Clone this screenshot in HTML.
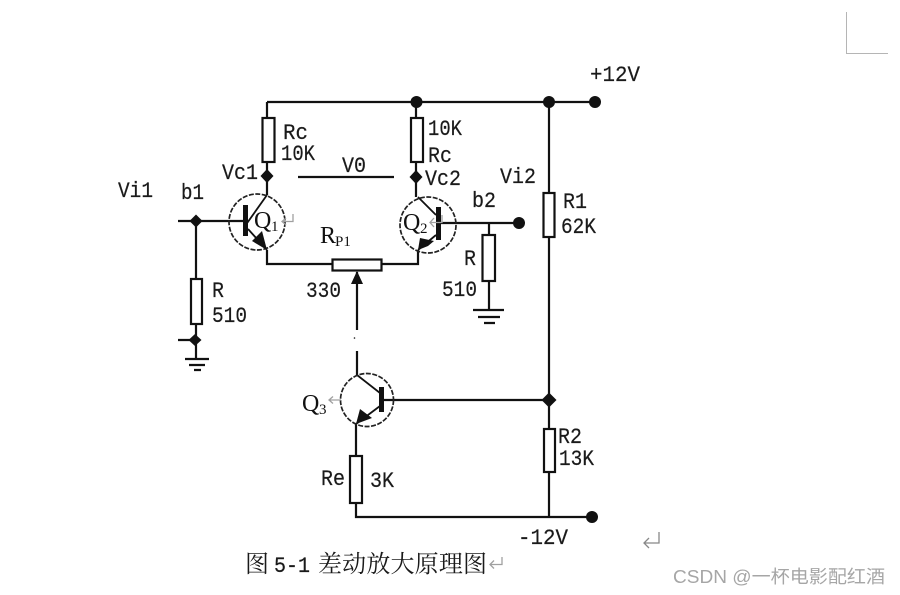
<!DOCTYPE html>
<html>
<head>
<meta charset="utf-8">
<style>
html,body{margin:0;padding:0;background:#fff;width:900px;height:595px;overflow:hidden}
svg{display:block}
.l{font-family:"Liberation Mono",monospace;font-size:22px;fill:#1a1a1a;stroke:#1a1a1a;stroke-width:0.2px}
.t{font-family:"Liberation Serif",serif;font-size:24px;fill:#111}
.s{font-family:"Liberation Serif",serif;font-size:15px;fill:#111}
.c{font-family:"Liberation Serif","Noto Serif CJK SC",serif;font-size:24px;fill:#1a1a1a}
.w{font-family:"Liberation Sans","Noto Sans CJK SC",sans-serif;font-size:18px;fill:#a6a6a6}
</style>
</head>
<body>
<svg width="900" height="595" viewBox="0 0 900 595" xmlns="http://www.w3.org/2000/svg">
<path d="M846.5 12V53.5H888" fill="none" stroke="#b5b5b5" stroke-width="1"/>
<g fill="none" stroke="#111" stroke-width="2.200">
<path d="M267 102H595M549 102V517M267 102V195M416 102V197"/>
<path d="M178 221H245M196 221V340M178 340H196M196 340V359"/>
<path d="M267 250V264H332M382 264H418V250"/>
<path d="M438 223H519M489 223V310"/>
<path d="M357 272V330M357 351V375"/>
<path d="M381 400H549M356 424V517H592"/>
<path d="M298 177H394"/>
<path d="M245 226L267 195M248 229L267 250" stroke-width="1.800"/>
<path d="M436 215L418 197M436 235L418 250" stroke-width="1.800"/>
<path d="M380 393L357 375M380 406L356 424" stroke-width="1.800"/>
<path d="M473 310H504M478 317H500M484 323H495" />
<path d="M185 359H209M189 365H205M194 370H201" />
</g>
<g fill="#fff" stroke="#111" stroke-width="2.200">
<rect x="262.500" y="118" width="12" height="44"/>
<rect x="411" y="118" width="12" height="44"/>
<rect x="543.500" y="193" width="11" height="44"/>
<rect x="544" y="429" width="11" height="43"/>
<rect x="482.500" y="235" width="12.500" height="46"/>
<rect x="191" y="279" width="11" height="45"/>
<rect x="332.500" y="259.500" width="49" height="11"/>
<rect x="350" y="456" width="12" height="47"/>
</g>
<g fill="none" stroke="#222" stroke-width="1.700" stroke-dasharray="5 1.500">
<circle cx="257" cy="222" r="28"/>
<circle cx="428" cy="225" r="28"/>
<circle cx="367" cy="400" r="26.500"/>
</g>
<g fill="#111">
<rect x="243" y="205" width="5" height="31"/>
<rect x="436" y="207" width="5" height="33"/>
<rect x="379" y="387" width="5" height="25"/>
<path d="M267 250L252 241L262 231Z"/>
<path d="M418 250L420 238L434 241L428 246Z"/>
<path d="M356 424L360 409L372 418Z"/>
<path d="M357 271L351 284H363Z"/>
<circle cx="354.500" cy="338" r="0.800"/>
</g>
<g fill="#111">
<path d="M267 169L273.500 176L267 183L260.500 176Z"/>
<path d="M416 170L422.500 177L416 184L409.500 177Z"/>
<path d="M196 214.500L202.500 221L196 227.500L189.500 221Z"/>
<path d="M195 334L201.500 340L195 346L188.500 340Z"/>
<circle cx="416.500" cy="102" r="6"/>
<circle cx="549" cy="102" r="6"/>
<circle cx="595" cy="102" r="6"/>
<circle cx="519" cy="223" r="6"/>
<path d="M549 392.500L556.500 400L549 407.500L541.500 400Z"/>
<circle cx="592" cy="517" r="6"/>
</g>
<text class="l" x="590" y="81" textLength="50" lengthAdjust="spacingAndGlyphs">+12V</text>
<text class="l" x="283" y="139" textLength="25" lengthAdjust="spacingAndGlyphs">Rc</text>
<text class="l" x="281" y="160" textLength="34" lengthAdjust="spacingAndGlyphs">10K</text>
<text class="l" x="222" y="179" textLength="36" lengthAdjust="spacingAndGlyphs">Vc1</text>
<text class="l" x="118" y="197" textLength="35" lengthAdjust="spacingAndGlyphs">Vi1</text>
<text class="l" x="181" y="199" textLength="23" lengthAdjust="spacingAndGlyphs">b1</text>
<text class="l" x="342" y="172" textLength="24" lengthAdjust="spacingAndGlyphs">V0</text>
<text class="l" x="428" y="135" textLength="34" lengthAdjust="spacingAndGlyphs">10K</text>
<text class="l" x="428" y="162" textLength="24" lengthAdjust="spacingAndGlyphs">Rc</text>
<text class="l" x="425" y="185" textLength="36" lengthAdjust="spacingAndGlyphs">Vc2</text>
<text class="l" x="500" y="183" textLength="36" lengthAdjust="spacingAndGlyphs">Vi2</text>
<text class="l" x="472" y="207" textLength="24" lengthAdjust="spacingAndGlyphs">b2</text>
<text class="l" x="563" y="208" textLength="24" lengthAdjust="spacingAndGlyphs">R1</text>
<text class="l" x="561" y="233" textLength="35" lengthAdjust="spacingAndGlyphs">62K</text>
<text class="l" x="464" y="265" textLength="12" lengthAdjust="spacingAndGlyphs">R</text>
<text class="l" x="442" y="296" textLength="35" lengthAdjust="spacingAndGlyphs">510</text>
<text class="l" x="306" y="297" textLength="35" lengthAdjust="spacingAndGlyphs">330</text>
<text class="l" x="212" y="297" textLength="12" lengthAdjust="spacingAndGlyphs">R</text>
<text class="l" x="212" y="322" textLength="35" lengthAdjust="spacingAndGlyphs">510</text>
<text class="l" x="558" y="443" textLength="24" lengthAdjust="spacingAndGlyphs">R2</text>
<text class="l" x="559" y="465" textLength="35" lengthAdjust="spacingAndGlyphs">13K</text>
<text class="l" x="321" y="485" textLength="24" lengthAdjust="spacingAndGlyphs">Re</text>
<text class="l" x="370" y="487" textLength="24" lengthAdjust="spacingAndGlyphs">3K</text>
<text class="l" x="518" y="544" textLength="50" lengthAdjust="spacingAndGlyphs">-12V</text>
<text class="t" x="254" y="228">Q</text><text class="s" x="271" y="231">1</text>
<text class="t" x="403" y="230">Q</text><text class="s" x="420" y="233">2</text>
<text class="t" x="302" y="411">Q</text><text class="s" x="319" y="414">3</text>
<text class="t" x="320" y="243">R</text><text class="s" x="335" y="246">P1</text>
<g fill="none" stroke="#a0a0a0" stroke-width="1.300">
<path d="M293 214V221.500H282M286 218L282 221.500L286 225"/>
<path d="M442 215V222.500H430M434 218L430 222.500L434 227"/>
<path d="M341 400H329M333 396.500L329 400L333 403.500"/>
<path d="M502 557V564.500H490M494 560.500L490 564.500L494 568.500"/>
<path d="M659 532V543H644M649 538L644 543L649 548" stroke="#888"/>
</g>
<text class="c" x="245" y="572">图</text>
<text class="l" x="274" y="572" textLength="36" lengthAdjust="spacingAndGlyphs">5-1</text>
<text class="c" x="318" y="572" textLength="169" lengthAdjust="spacing">差动放大原理图</text>
<text class="w" x="673" y="583" textLength="212" lengthAdjust="spacingAndGlyphs">CSDN @一杯电影配红酒</text>
</svg>
</body>
</html>
